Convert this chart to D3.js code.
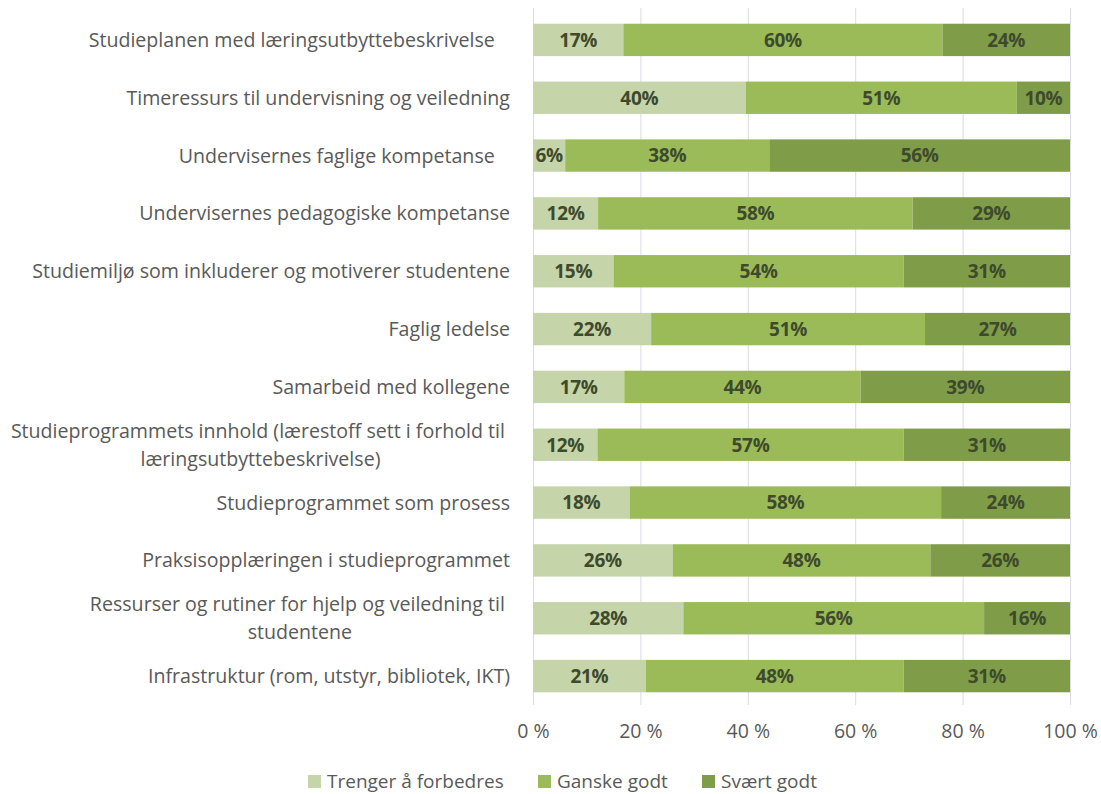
<!DOCTYPE html>
<html>
<head>
<meta charset="utf-8">
<script src="https://cdn.jsdelivr.net/npm/d3@7"></script>
<style>
  html, body { margin: 0; padding: 0; background: #ffffff; }
  svg { display: block; }
  text { white-space: pre; }
</style>
</head>
<body>
<script>
// Category labels (line breaks mark where a label wraps)
const categories = [
  "Studieplanen med læringsutbyttebeskrivelse\u00a0\u00a0\u00a0",
  "Timeressurs til undervisning og veiledning",
  "Undervisernes faglige kompetanse\u00a0\u00a0\u00a0",
  "Undervisernes pedagogiske kompetanse",
  "Studiemiljø som inkluderer og motiverer studentene",
  "Faglig ledelse",
  "Samarbeid med kollegene",
  "Studieprogrammets innhold (lærestoff sett i forhold til\u00a0\nlæringsutbyttebeskrivelse)",
  "Studieprogrammet som prosess",
  "Praksisopplæringen i studieprogrammet",
  "Ressurser og rutiner for hjelp og veiledning til\u00a0\nstudentene",
  "Infrastruktur (rom, utstyr, bibliotek, IKT)"
];

// Share of answers per category (percent)
const trenger = [17, 40, 6, 12, 15, 22, 17, 12, 18, 26, 28, 21];
const ganske  = [60, 51, 38, 58, 54, 51, 44, 57, 58, 48, 56, 48];
const svaert  = [24, 10, 56, 29, 31, 27, 39, 31, 24, 26, 16, 31];

const seriesNames = ["Trenger å forbedres", "Ganske godt", "Svært godt"];
const seriesColors = ["#c5d5a9", "#9bbb59", "#7f9c49"];

const tickValues = [0, 0.2, 0.4, 0.6, 0.8, 1.0];
const tickLabels = ["0 %", "20 %", "40 %", "60 %", "80 %", "100 %"];

const W = 1101, H = 794;
const svg = d3.select("body").append("svg")
  .attr("width", W).attr("height", H);

const FONT = "'Open Sans', Lato, sans-serif";

const rows = categories.map((c, i) => ({ cat: c, vals: [trenger[i], ganske[i], svaert[i]] }));

const x = d3.scaleLinear().domain([0, 1]).range([533, 1070]);
const y = d3.scaleBand()
  .domain(d3.range(categories.length))
  .range([11, 705])
  .paddingInner(0.44)
  .paddingOuter(0.22);

// Vertical gridlines and percentage axis
const axis = d3.axisBottom(x)
  .tickValues(tickValues)
  .tickFormat((d, i) => tickLabels[i])
  .tickSizeInner(-(705 - 8))
  .tickSizeOuter(0)
  .tickPadding(19);

const gAxis = svg.append("g")
  .attr("transform", "translate(0,705)")
  .call(axis);
gAxis.select(".domain").remove();
gAxis.selectAll(".tick line").attr("stroke", "#d9dae4").attr("stroke-width", 1);
gAxis.selectAll(".tick text")
  .attr("fill", "#595959")
  .style("font-family", FONT)
  .style("font-size", "19.5px");

// 100 % stacked bars
const stack = d3.stack()
  .keys([0, 1, 2])
  .value((d, k) => d.vals[k])
  .offset(d3.stackOffsetExpand);
const layers = stack(rows);

const gLayers = svg.append("g").selectAll("g")
  .data(layers)
  .join("g")
  .attr("fill", (d, i) => seriesColors[i]);

gLayers.selectAll("rect")
  .data(d => d.map((seg, i) => ({ seg, i })))
  .join("rect")
  .attr("x", d => x(d.seg[0]))
  .attr("width", d => x(d.seg[1]) - x(d.seg[0]))
  .attr("y", d => y(d.i))
  .attr("height", y.bandwidth());

// Value labels centred in each segment
const gLabels = svg.append("g");
layers.forEach((layer, k) => {
  gLabels.selectAll(null)
    .data(layer.map((seg, i) => ({ seg, i, v: rows[i].vals[k] })))
    .join("text")
    .attr("x", d => (x(d.seg[0]) + x(d.seg[1])) / 2)
    .attr("y", d => y(d.i) + y.bandwidth() / 2)
    .attr("dy", "0.36em")
    .attr("text-anchor", "middle")
    .attr("fill", "#3e4a2c")
    .style("font-family", FONT)
    .style("font-weight", "bold")
    .style("font-size", "19px")
    .style("letter-spacing", "-0.3px")
    .text(d => d.v + "%");
});

// Category labels: right-aligned block, wrapped lines centred within it
const labelRight = 510;
const lineH = 28;
const gCats = svg.append("g")
  .style("font-family", FONT)
  .style("font-size", "19.6px")
  .attr("fill", "#595959");

categories.forEach((c, i) => {
  const lines = c.split("\n");
  const cy = y(i) + y.bandwidth() / 2;
  if (lines.length === 1) {
    gCats.append("text")
      .attr("x", labelRight)
      .attr("y", cy)
      .attr("dy", "0.36em")
      .attr("text-anchor", "end")
      .text(lines[0]);
  } else {
    const t = gCats.append("text").attr("text-anchor", "middle");
    const spans = lines.map((ln, j) => t.append("tspan")
      .attr("y", cy + (j - (lines.length - 1) / 2) * lineH)
      .attr("dy", "0.36em")
      .text(ln));
    const maxW = d3.max(spans, s => s.node().getComputedTextLength());
    spans.forEach(s => s.attr("x", labelRight - maxW / 2));
  }
});

// Legend
const legendX = [308, 538, 702];
const legendY = 781;
const gLegend = svg.append("g")
  .style("font-family", FONT)
  .style("font-size", "19px");
seriesNames.forEach((name, i) => {
  const g = gLegend.append("g").attr("transform", `translate(${legendX[i]},${legendY})`);
  g.append("rect").attr("x", 0).attr("y", -6).attr("width", 13).attr("height", 13)
    .attr("fill", seriesColors[i]);
  g.append("text").attr("x", 19).attr("y", 0).attr("dy", "0.36em")
    .attr("fill", "#595959").text(name);
});
</script>
</body>
</html>
